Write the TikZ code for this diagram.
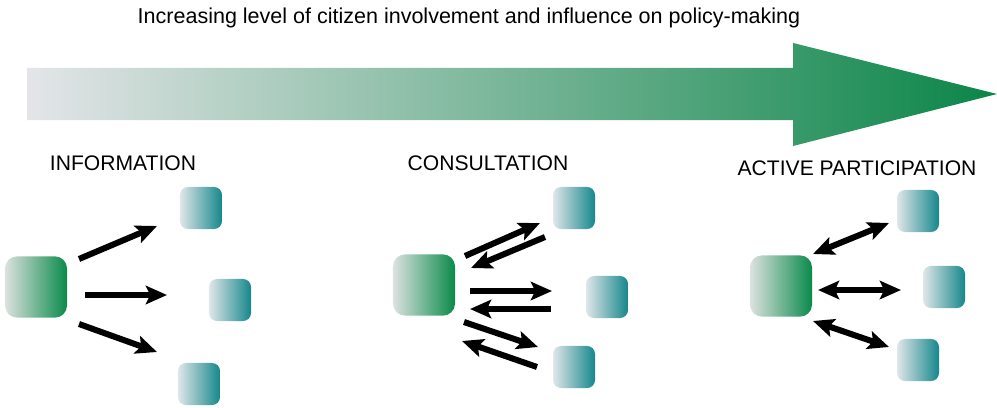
\documentclass[tikz,border=0pt]{standalone}
\usepackage{fontspec}
\setmainfont{Liberation Sans}
\usetikzlibrary{arrows.meta}
\definecolor{shaftgray}{HTML}{E4E5E8}
\definecolor{policygreen}{HTML}{0B8548}
\definecolor{boxgray}{HTML}{DCE2E0}
\definecolor{boxgreen}{HTML}{0A8A4A}
\definecolor{tealgray}{HTML}{E0E6E9}
\definecolor{boxteal}{HTML}{15878B}
\tikzset{
  bigbox/.style={minimum width=1.55cm,minimum height=1.53cm,rounded corners=0.3cm,
    left color=boxgray,right color=boxgreen},
  smallbox/.style={minimum size=1.05cm,rounded corners=0.2cm,
    left color=tealgray,right color=boxteal},
  arr/.style={line width=4.3pt,-{Stealth[length=15pt,width=13pt,inset=3pt]}},
  dblarr/.style={line width=4.3pt,{Stealth[length=15pt,width=13pt,inset=3pt]}-{Stealth[length=15pt,width=13pt,inset=3pt]}},
  heading/.style={font=\fontsize{15}{18}\selectfont,anchor=base,inner sep=0pt},
}
\begin{document}
\begin{tikzpicture}[x=0.025cm,y=-0.025cm]
\useasboundingbox (0,0) rectangle (997,407);
% title and big arrow
\node[font=\fontsize{15.3}{18}\selectfont,anchor=base,inner sep=0pt] (title) at (469,24)
  {Increasing level of citizen involvement and influence on policy-making};
\shade[left color=shaftgray,right color=policygreen]
  (27,68) -- (793,68) -- (793,43) -- (997,94) -- (793,146) -- (793,120) -- (27,120) -- cycle;
\node[heading] (infolabel) at (123,170) {INFORMATION};
\node[heading] (conslabel) at (488,170) {CONSULTATION};
\node[heading] (actlabel) at (857,175) {ACTIVE PARTICIPATION};
% information
\node[bigbox] (ibig) at (36,287) {};
\node[smallbox] (itop) at (201,208) {};
\node[smallbox] (imid) at (230,300) {};
\node[smallbox] (ibot) at (199,384) {};
\coordinate (ia1) at (79,259);  \coordinate (ib1) at (157,226);
\coordinate (ia2) at (85,295);  \coordinate (ib2) at (167,295);
\coordinate (ia3) at (79,324);  \coordinate (ib3) at (157,352);
\draw[arr] (ia1) -- (ib1);
\draw[arr] (ia2) -- (ib2);
\draw[arr] (ia3) -- (ib3);
% consultation
\node[bigbox] (cbig) at (424,285) {};
\node[smallbox] (ctop) at (574,208) {};
\node[smallbox] (cmid) at (607,297) {};
\node[smallbox] (cbot) at (574,367) {};
\coordinate (co1) at (465,256);  \coordinate (ct1) at (540,223);
\coordinate (cf1) at (545,237);  \coordinate (cb1) at (471,268);
\coordinate (co2) at (470,291);  \coordinate (ct2) at (552,291);
\coordinate (cf2) at (551,309);  \coordinate (cb2) at (470,309);
\coordinate (co3) at (464,322);  \coordinate (ct3) at (538,347);
\coordinate (cf3) at (537,367);  \coordinate (cb3) at (462,341);
\draw[arr] (co1) -- (ct1);
\draw[arr] (cf1) -- (cb1);
\draw[arr] (co2) -- (ct2);
\draw[arr] (cf2) -- (cb2);
\draw[arr] (co3) -- (ct3);
\draw[arr] (cf3) -- (cb3);
% active participation
\node[bigbox] (abig) at (781,286) {};
\node[smallbox] (atop) at (918,211) {};
\node[smallbox] (amid) at (944,287) {};
\node[smallbox] (abot) at (918,360) {};
\coordinate (aa1) at (813,254);  \coordinate (ab1) at (889,223);
\coordinate (aa2) at (818,290);  \coordinate (ab2) at (901,290);
\coordinate (aa3) at (813,321);  \coordinate (ab3) at (889,347);
\draw[dblarr] (aa1) -- (ab1);
\draw[dblarr] (aa2) -- (ab2);
\draw[dblarr] (aa3) -- (ab3);
\end{tikzpicture}
\end{document}
